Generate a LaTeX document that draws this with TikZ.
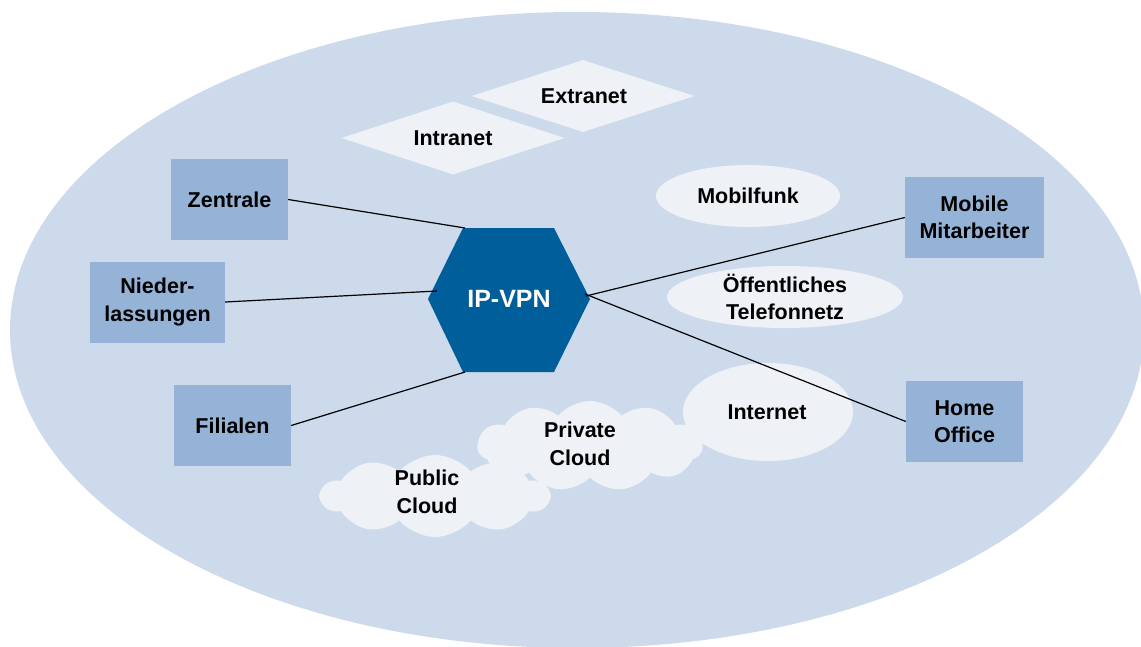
\documentclass[tikz,border=0pt]{standalone}
\usepackage{fontspec}
\setmainfont{Liberation Sans}
\usetikzlibrary{shapes.geometric,shapes.symbols}
\definecolor{bgblue}{RGB}{205,218,235}
\definecolor{boxblue}{RGB}{149,179,215}
\definecolor{hexblue}{RGB}{0,95,155}
\definecolor{light}{RGB}{238,242,246}
\tikzset{
  lbl/.style={font=\fontsize{21.5}{27.5}\selectfont\bfseries, align=center, text=black},
  sitebox/.style={lbl, fill=boxblue, draw=none, minimum height=81pt, inner sep=0pt},
  lightshape/.style={lbl, fill=light, draw=none, inner sep=0pt},
  conn/.style={draw=black, line width=1.2pt},
}
\begin{document}
\begin{tikzpicture}[x=1pt,y=-1pt]
\useasboundingbox (0,0) rectangle (1141,646);
\fill[bgblue] (577,330) ellipse [x radius=567, y radius=318];
% diamonds
\node[lightshape, diamond, minimum width=223pt, minimum height=73pt, aspect=3] (intra) at (453,138) {};
\node[lbl] at (453,138) {Intranet};
\node[lightshape, diamond, minimum width=223pt, minimum height=72pt, aspect=3] (extra) at (583,96) {};
\node[lbl] at (584,96) {Extranet};
% ellipses
\node[lightshape, ellipse, minimum width=184pt, minimum height=62pt] (mobil) at (748,196) {};
\node[lbl] at (748,196) {Mobilfunk};
\node[lightshape, ellipse, minimum width=236pt, minimum height=62pt] (tel) at (785,297) {};
\node[lbl] at (785,297) {Öffentliches\\Telefonnetz};
% clouds
\node[lightshape, cloud, cloud puffs=11, cloud puff arc=100, aspect=2.6, minimum width=225pt, minimum height=90pt] (priv) at (590,446) {};
\node[lightshape, cloud, cloud puffs=10, cloud puff arc=100, aspect=2.7, minimum width=228pt, minimum height=82pt] (pub) at (435,496) {};
\node[lightshape, ellipse, minimum width=170pt, minimum height=98pt] (inet) at (768,412) {};
\node[lbl] at (580,444) {Private\\Cloud};
\node[lbl] at (427,492) {Public\\Cloud};
\node[lbl] at (767,412) {Internet};
% hexagon
\coordinate (h1) at (463,228);
\coordinate (h2) at (554,228);
\coordinate (h3) at (590,299);
\coordinate (h4) at (554,372);
\coordinate (h5) at (463,372);
\coordinate (h6) at (428,299);
\fill[hexblue] (h1) -- (h2) -- (h3) -- (h4) -- (h5) -- (h6) -- cycle;
\node[font=\fontsize{25}{28}\selectfont\bfseries, text=white] (vpn) at (509,299) {IP-VPN};
% site boxes
\node[sitebox, minimum width=117pt] (zen) at (229.5,199.5) {Zentrale};
\node[sitebox, minimum width=135pt] (nie) at (157.5,302) {Nieder-\\lassungen};
\node[sitebox, minimum width=117pt] (fil) at (232.5,425.5) {Filialen};
\node[sitebox, minimum width=139pt] (mob) at (974.5,217.5) {Mobile\\Mitarbeiter};
\node[sitebox, minimum width=117pt] (home) at (964.5,421.5) {Home\\Office};
% connectors
\coordinate (cz) at (465,228);
\coordinate (cn) at (437,291);
\coordinate (cf) at (465,372);
\coordinate (cm) at (586,296);
\coordinate (ch) at (585,294);
\draw[conn] (zen.east) -- (cz);
\draw[conn] (nie.east) -- (cn);
\draw[conn] (fil.east) -- (cf);
\draw[conn] (mob.west) -- (cm);
\draw[conn] (home.west) -- (ch);
\end{tikzpicture}
\end{document}
